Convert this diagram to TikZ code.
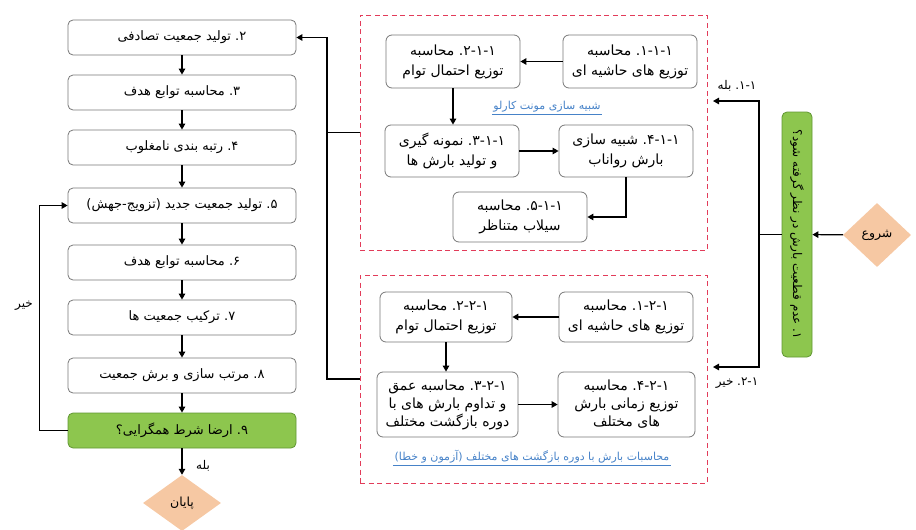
\documentclass[tikz,border=0pt]{standalone}
\usepackage{fontspec}
\setmainfont{DejaVu Sans}
\newfontfamily\arabicfont[Script=Arabic]{DejaVu Sans}
\TeXXeTstate=1
\usetikzlibrary{shapes.geometric,arrows.meta}
\newcommand{\ar}[1]{{\arabicfont\beginR #1\endR}}
\newcommand{\pn}[1]{\mbox{\mbox{#1}\mbox{.}}}
\definecolor{grn}{RGB}{141,198,78}
\definecolor{grnd}{RGB}{96,150,50}
\definecolor{peach}{RGB}{246,200,163}
\definecolor{redc}{RGB}{226,60,90}
\definecolor{bluec}{RGB}{70,130,200}
\definecolor{bordc}{RGB}{120,120,120}
\tikzset{
  colbox/.style={draw=bordc, rounded corners=5pt, fill=white, line width=0.8pt, align=center,
    minimum width=228pt, minimum height=35pt, inner sep=1pt, font=\fontsize{13}{15}\selectfont},
  inbox/.style={draw=bordc, rounded corners=6pt, fill=white, line width=0.8pt, align=center,
    minimum width=134pt, inner sep=1pt, font=\fontsize{14}{20}\selectfont},
  grbox/.style={colbox, fill=grn, draw=grnd},
  dia/.style={diamond, aspect=1.3, fill=peach, draw=none, inner sep=1pt, font=\fontsize{12.5}{14}\selectfont},
  arr/.style={-{Triangle[length=6pt,width=6.5pt]}, line width=1.2pt},
  ln/.style={line width=1.2pt},
  redbox/.style={draw=redc, dash pattern=on 5pt off 3.5pt, line width=1pt},
  lbl/.style={font=\fontsize{12}{14}\selectfont, inner sep=1pt},
  bluelbl/.style={font=\fontsize{11}{13}\selectfont, text=bluec, inner sep=1.5pt}
}
\begin{document}
\begin{tikzpicture}[x=1pt,y=-1pt]
\useasboundingbox (0,0) rectangle (916,530);
% red dashed frames
\node[redbox, minimum width=347pt, minimum height=235pt, inner sep=0pt] (rtop) at (533.5,132.5) {};
\node[redbox, minimum width=347pt, minimum height=208pt, inner sep=0pt] (rbot) at (533.5,379) {};
% left column
\node[colbox] (n2) at (182,37.5) {\ar{\pn{۲} تولید جمعیت تصادفی}};
\node[colbox] (n3) at (182,92.5) {\ar{\pn{۳} محاسبه توابع هدف}};
\node[colbox] (n4) at (182,147.5) {\ar{\pn{۴} رتبه بندی نامغلوب}};
\node[colbox] (n5) at (182,205.5) {\ar{\pn{۵} تولید جمعیت جدید (تزویج-جهش)}};
\node[colbox] (n6) at (182,262.5) {\ar{\pn{۶} محاسبه توابع هدف}};
\node[colbox] (n7) at (182,317.5) {\ar{\pn{۷} ترکیب جمعیت ها}};
\node[colbox] (n8) at (182,375.5) {\ar{\pn{۸} مرتب سازی و برش جمعیت}};
\node[grbox] (n9) at (182,430.5) {\ar{\pn{۹} ارضا شرط همگرایی؟}};
\node[dia, minimum width=78pt, minimum height=56pt] (end) at (182,503) {\ar{پایان}};
\foreach \a/\b in {n2/n3,n3/n4,n4/n5,n5/n6,n6/n7,n7/n8,n8/n9,n9/end}
  \draw[arr] (\a) -- (\b);
\node[lbl] (yes9) at (203,466) {\ar{بله}};
\draw[arr] (n9.west) -- ++(-28,0) |- (n5.west);
\node[lbl] (no9) at (24,306) {\ar{خیر}};
% top group
\node[inbox, minimum height=53pt] (a1) at (630,61.5) {\ar{\pn{۱-۱-۱} محاسبه}\\\ar{توزیع های حاشیه ای}};
\node[inbox, minimum height=53pt] (a2) at (453,61.5) {\ar{\pn{۲-۱-۱} محاسبه}\\\ar{توزیع احتمال توام}};
\node[inbox, minimum height=52pt] (a3) at (452,151) {\ar{\pn{۳-۱-۱} نمونه گیری}\\\ar{و تولید بارش ها}};
\node[inbox, minimum height=52pt] (a4) at (626,151) {\ar{\pn{۴-۱-۱} شبیه سازی}\\\ar{بارش رواناب}};
\node[inbox, minimum height=50pt] (a5) at (520,217) {\ar{\pn{۵-۱-۱} محاسبه}\\\ar{سیلاب متناظر}};
\node[bluelbl] (mc) at (547,107) {\ar{شبیه سازی مونت کارلو}};
\draw[bluec, line width=0.6pt] (mc.south west) -- (mc.south east);
\draw[arr] (a1) -- (a2);
\draw[arr] (a2.south) -- (a2.south |- a3.north);
\draw[arr] (a3) -- (a4);
\draw[arr] (a4.south) |- (a5.east);
% bottom group
\node[inbox, minimum height=50pt] (b1) at (626,317) {\ar{\pn{۱-۲-۱} محاسبه}\\\ar{توزیع های حاشیه ای}};
\node[inbox, minimum height=50pt, minimum width=132pt] (b2) at (446,317) {\ar{\pn{۲-۲-۱} محاسبه}\\\ar{توزیع احتمال توام}};
\node[inbox, minimum height=65pt, minimum width=141pt, font=\fontsize{14}{18}\selectfont] (b3) at (447.5,404.5) {\ar{\pn{۳-۲-۱} محاسبه عمق}\\\ar{و تداوم بارش های با}\\\ar{دوره بازگشت مختلف}};
\node[inbox, minimum height=65pt, minimum width=137pt, font=\fontsize{14}{18}\selectfont] (b4) at (626.5,404.5) {\ar{\pn{۴-۲-۱} محاسبه}\\\ar{توزیع زمانی بارش}\\\ar{های مختلف}};
\node[bluelbl] (rp) at (532,457) {\ar{محاسبات بارش با دوره بازگشت های مختلف (آزمون و خطا)}};
\draw[bluec, line width=0.6pt] (rp.south west) -- (rp.south east);
\draw[arr] (b1) -- (b2);
\draw[arr] (b2.south) -- (b2.south |- b3.north);
\draw[arr] (b3) -- (b4);
% connection to left column
\coordinate (jl) at (327,37.5);
\draw[arr] (rtop.west) -| (jl) -- (n2.east);
\draw[ln] (rbot.west) -| (jl);
% right side
\node[dia, minimum width=68pt, minimum height=64pt] (start) at (877,235) {\ar{شروع}};
\node[grbox, rotate=-90, minimum width=245pt, minimum height=30pt, font=\fontsize{12}{13}\selectfont] (q) at (797,234.5) {\ar{\pn{۱} عدم قطعیت بارش در نظر گرفته شود؟}};
\draw[arr] (start) -- (q);
\coordinate (jr) at (759,234.5);
\coordinate (yesend) at (713,101);
\coordinate (noend) at (713,367);
\draw[ln] (q) -- (jr);
\draw[arr] (jr) |- (yesend);
\draw[arr] (jr) |- (noend);
\node[lbl] (yes1) at (737,86) {\ar{\pn{۱-۱} بله}};
\node[lbl] (no1) at (737,383) {\ar{\pn{۲-۱} خیر}};
\end{tikzpicture}
\end{document}
